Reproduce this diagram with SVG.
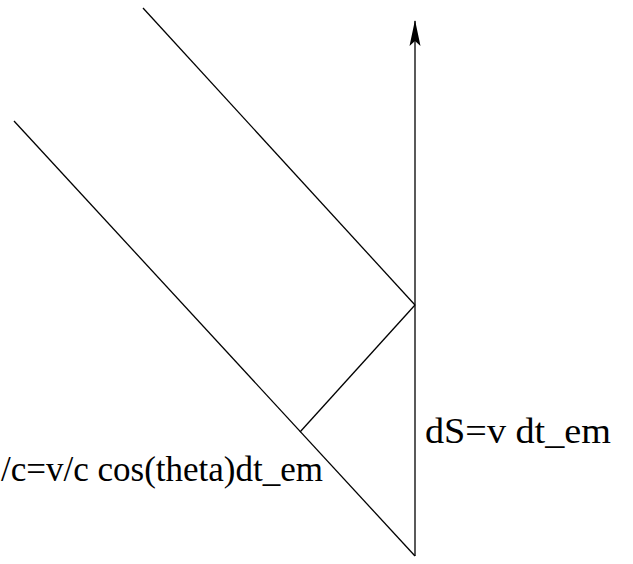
<svg xmlns="http://www.w3.org/2000/svg" width="633" height="564" viewBox="0 0 633 564">
<style>
.ln{stroke:#000;stroke-width:1.3;fill:none}
.lbl{font-family:"Liberation Serif","Times New Roman",serif;font-size:36px;fill:#000}
</style>
<defs>
<marker id="ah" viewBox="0 0 26 12" refX="25" refY="6" markerWidth="26" markerHeight="12" markerUnits="userSpaceOnUse" orient="auto">
<path d="M26,6 L0,0.5 L5,6 L0,11.5 Z" fill="#000"/>
</marker>
</defs>
<rect width="633" height="564" fill="#fff"/>
<g id="connectors">
<line class="ln" x1="143" y1="8" x2="415" y2="305"/>
<line class="ln" x1="14" y1="121" x2="415" y2="556"/>
<line class="ln" x1="300" y1="432" x2="415" y2="305"/>
<line class="ln" x1="415" y1="556" x2="415" y2="21" marker-end="url(#ah)"/>
</g>
<g id="label-ds">
<text class="lbl" x="425" y="443" textLength="186" lengthAdjust="spacingAndGlyphs">dS=v dt_em</text>
</g>
<g id="label-left">
<text class="lbl" x="1" y="481" textLength="322" lengthAdjust="spacingAndGlyphs">/c=v/c cos(theta)dt_em</text>
</g>
</svg>
